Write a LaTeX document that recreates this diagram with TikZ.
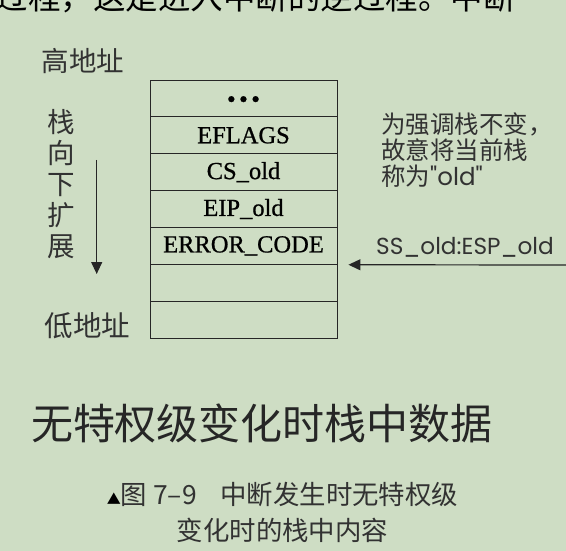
\documentclass[tikz,border=0pt]{standalone}
\usepackage{fontspec}
\setmainfont{Liberation Serif}
\newfontfamily\cellfont[FakeBold=0.8]{Liberation Serif}
\newfontfamily\cjk{Noto Sans CJK SC}
\newfontfamily\geo{Poppins}
\usetikzlibrary{arrows.meta}
\definecolor{bg}{RGB}{206,221,196}
\definecolor{ink}{RGB}{50,50,50}
\tikzset{
  cell/.style={draw=black!85, line width=0.9pt, minimum width=187pt, minimum height=36.86pt, inner sep=0pt, font=\cellfont\fontsize{24.5}{24.5}\selectfont, text=black},
  lbl/.style={text=ink, inner sep=0pt, font=\cjk\fontsize{27.5}{31}\selectfont},
  arr/.style={draw=black!85, line width=1.2pt, -{Triangle[length=12pt,width=11pt]}}
}
\begin{document}
\begin{tikzpicture}[x=1pt,y=-1pt]
\fill[bg] (0,0) rectangle (566,551);
\useasboundingbox (0,0) rectangle (566,551);
\begin{scope}
\clip (0,0) rectangle (566,551);
\node[anchor=base west, inner sep=0pt, text=black, font=\cjk\fontsize{32.5}{32.5}\selectfont] (toptext) at (-4.5,10) {过程，这是进入中断的逆过程。中断};
\end{scope}
% stack
\foreach \i/\t in {1/{\raisebox{-9pt}[0pt][0pt]{\fontsize{25}{25}\selectfont •\hspace{3.4pt}•\hspace{3.4pt}•}},2/EFLAGS,3/CS\_old,4/EIP\_old,5/ERROR\_CODE,6/{},7/{}}{
  \node[cell] (r\i) at (243.5,{98.43+36.86*(\i-1)}) {\t};
}
% left labels
\node[lbl, anchor=center] (hi) at (83,61) {高地址};
\node[lbl, anchor=center, align=center] (grow) at (61.5,184) {栈\\向\\下\\扩\\展};
\node[lbl, anchor=center, font=\cjk\fontsize{28.5}{31}\selectfont] (lo) at (87.5,326) {低地址};
\coordinate (g1) at (96.7,160);
\coordinate (g2) at (96.7,274);
\draw[arr] (g1) -- (g2);
% right note
\node[anchor=north west, align=left, text=ink, inner sep=0pt, font=\cjk\fontsize{24.5}{26}\selectfont] (note) at (381,112) {为强调栈不变，\\故意将当前栈\\称为{\geo"old"}};
\node[anchor=center, text=ink, inner sep=0pt, font=\geo\fontsize{23.2}{23.2}\selectfont] (esp) at (465,247) {SS\_old:ESP\_old};
\coordinate (espsrc) at (566,265);
\coordinate (esptip) at ([xshift=11pt]r5.south east);
\draw[arr] (espsrc) -- (esptip);
% title
\node[anchor=center, text=black!85, inner sep=0pt, font=\cjk\fontsize{42}{42}\selectfont] (title) at (262,423) {无特权级变化时栈中数据};
\node[anchor=center, text=ink, inner sep=0pt, font=\cjk\fontsize{26.4}{26.4}\selectfont] (cap1) at (282.5,494) {{\fontsize{14}{14}\selectfont\textcolor{black}{▲}}图 7–9\hspace{0.9em}中断发生时无特权级};
\node[anchor=center, text=ink, inner sep=0pt, font=\cjk\fontsize{26.4}{26.4}\selectfont] (cap2) at (282.5,530) {变化时的栈中内容};
\end{tikzpicture}
\end{document}
